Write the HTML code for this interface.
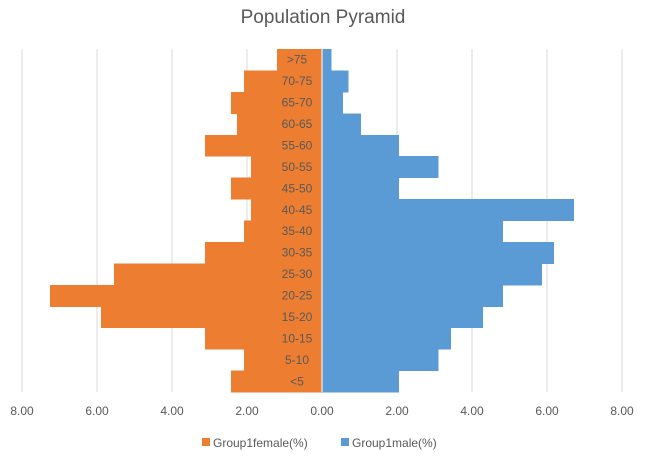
<!DOCTYPE html>
<html><head><meta charset="utf-8"><style>
body{margin:0;background:#fff;width:647px;height:460px;overflow:hidden;font-family:"Liberation Sans",sans-serif}
</style></head><body>
<svg id="chart" width="647" height="460">
<text x="323" y="23" text-anchor="middle" font-size="19" fill="#595959">Population Pyramid</text>
<g id="grid"></g><g id="bars" shape-rendering="crispEdges"></g><g id="labels"></g><g id="ticks"></g>
<g>
<rect x="202" y="438" width="8" height="8" fill="#ED7D31"/>
<text x="213" y="447" font-size="12" fill="#595959">Group1female(%)</text>
<rect x="341" y="438" width="8" height="8" fill="#5B9BD5"/>
<text x="352" y="447" font-size="12" fill="#595959">Group1male(%)</text>
</g>
</svg>
<script>
const categories=["<5","5-10","10-15","15-20","20-25","25-30","30-35","35-40","40-45","45-50","50-55","55-60","60-65","65-70","70-75",">75"];
const female=[2.43,2.08,3.12,5.89,7.25,5.55,3.12,2.08,1.89,2.43,1.89,3.12,2.27,2.43,2.08,1.2];
const male=[2.05,3.1,3.44,4.29,4.83,5.87,6.19,4.83,6.72,2.05,3.1,2.05,1.04,0.56,0.7,0.25];
const tickValues=[-8,-6,-4,-2,0,2,4,6,8];
const tickLabels=["8.00","6.00","4.00","2.00","0.00","2.00","4.00","6.00","8.00"];
const NS="http://www.w3.org/2000/svg";
const x0=322,scale=37.5,plotTop=49,plotBottom=392;
const rowH=(plotBottom-plotTop)/categories.length;
const xs=v=>x0+v*scale;
const yRow=i=>plotBottom-(i+1)*rowH;
function mk(t,a,p){const e=document.createElementNS(NS,t);for(const k in a)e.setAttribute(k,a[k]);p.appendChild(e);return e;}
const grid=document.getElementById('grid'),bars=document.getElementById('bars'),labels=document.getElementById('labels'),ticks=document.getElementById('ticks');
tickValues.forEach((v,i)=>{
 const l=mk('line',{x1:xs(v),x2:xs(v),y1:plotTop,y2:plotBottom,stroke:'#D9D9D9','stroke-width':1},grid);
 
 
 const t=mk('text',{x:xs(v),y:415,'text-anchor':'middle','font-size':12,fill:'#595959'},ticks);
 t.textContent=tickLabels[i];
 
 
});
categories.forEach((c,i)=>{
 const y=yRow(i);
 const f=mk('rect',{x:xs(-female[i]),y:y,width:female[i]*scale,height:rowH+0.5,fill:'#ED7D31'},bars);
 
 
 const m=mk('rect',{x:x0,y:y,width:male[i]*scale,height:rowH+0.5,fill:'#5B9BD5'},bars);
 
 
 const t=mk('text',{x:297,y:y+rowH/2+4,'text-anchor':'middle','font-size':12,fill:'#595959'},labels);
 t.textContent=c;
 
 
});
const ax=mk('line',{x1:x0,x2:x0,y1:plotTop,y2:plotBottom,stroke:'#fff','stroke-width':1},bars);


</script>
</body></html>
